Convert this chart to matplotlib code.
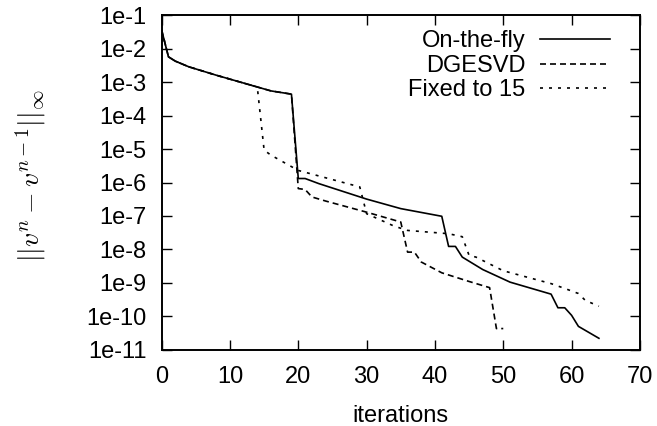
import matplotlib
matplotlib.use("Agg")
import matplotlib.pyplot as plt
from matplotlib.lines import Line2D

plt.rcParams['font.family'] = ['Liberation Sans', 'DejaVu Sans']
plt.rcParams['mathtext.fontset'] = 'cm'

# on-the-fly rank selection
fly_x = [0, 1, 2, 4, 8, 14, 16, 19, 20, 21, 23, 30, 35, 41, 42, 43, 44, 47, 51, 57, 58, 59, 60, 61, 64]
fly_y = [3.63e-2, 5.75e-3, 4.27e-3, 2.88e-3, 1.62e-3, 7.2e-4, 5.5e-4, 4.4e-4,
         1.32e-6, 1.32e-6, 9.3e-7, 3.2e-7, 1.66e-7, 9.8e-8, 1.23e-8, 1.23e-8,
         5.9e-9, 2.5e-9, 1.05e-9, 4.6e-10, 1.8e-10, 1.8e-10, 1.07e-10, 5.0e-11, 2.2e-11]

# DGESVD
svd_x = [0, 1, 2, 4, 8, 14, 16, 19, 20, 21, 22, 24, 30, 35, 36, 37, 38, 41, 45, 48, 49, 50]
svd_y = [3.63e-2, 5.75e-3, 4.27e-3, 2.88e-3, 1.62e-3, 7.2e-4, 5.5e-4, 4.4e-4,
         6.6e-7, 6.2e-7, 3.7e-7, 2.8e-7, 1.3e-7, 6.6e-8, 8.3e-9, 8.3e-9,
         4.2e-9, 2.0e-9, 1.1e-9, 7.2e-10, 4.3e-11, 4.3e-11]

# rank fixed to 15
fix_x = [0, 1, 2, 4, 8, 14, 15, 16, 20, 29, 30, 34, 36, 42, 44, 45, 46, 50, 57, 59, 61, 62, 64]
fix_y = [3.63e-2, 5.75e-3, 4.27e-3, 2.88e-3, 1.62e-3, 7.2e-4, 9.3e-6, 6.6e-6,
         2.3e-6, 7.4e-7, 1.17e-7, 5.0e-8, 3.7e-8, 2.95e-8, 2.4e-8, 6.6e-9,
         5.9e-9, 2.3e-9, 9.5e-10, 6.8e-10, 4.8e-10, 3.0e-10, 2.0e-10]

labels = ["On-the-fly", "DGESVD", "Fixed to 15"]
ytick_vals = [10.0 ** -k for k in range(1, 12)]
ytick_labels = ["1e-%d" % k for k in range(1, 12)]

fig = plt.figure(figsize=(6.57, 4.26), dpi=100)
ax = fig.add_axes([0.246, 0.179, 0.728, 0.785])

lw = 1.2
styles = [dict(ls='-'), dict(ls=(0, (3.6, 2.4))), dict(ls=(0, (1.8, 3.6)))]
series = [(fly_x, fly_y), (svd_x, svd_y), (fix_x, fix_y)]
for (xs, ys), st in zip(series, styles):
    ax.plot(xs, ys, color='black', lw=lw, **st)

ax.set_yscale('log')
ax.set_xlim(0, 70)
ax.set_ylim(1e-11, 1e-1)
ax.set_xticks(range(0, 71, 10))
ax.set_yticks(ytick_vals)
ax.set_yticklabels(ytick_labels)
ax.minorticks_off()
ax.tick_params(direction='in', length=7, width=1.0, top=True, right=True,
               labelsize=17)
ax.tick_params(axis='y', pad=11)
ax.tick_params(axis='x', pad=12)
for sp in ax.spines.values():
    sp.set_linewidth(1.4)

ax.set_xlabel("iterations", fontsize=17, labelpad=12)
ax.set_ylabel(r"$||v^n - v^{n-1}||_\infty$", fontsize=20)
ax.yaxis.set_label_coords(-0.238, 0.52)

# gnuplot-style key: right-aligned text, sample line after it
rows = [0.904, 0.831, 0.759]
for lab, st, yb in zip(labels, styles, rows):
    ax.text(0.760, yb, lab, transform=ax.transAxes, ha='right', va='baseline',
            fontsize=17)
    ax.add_line(Line2D([0.791, 0.937], [yb + 0.024, yb + 0.024],
                       transform=ax.transAxes, color='black', lw=lw, **st))

fig.savefig("out.png", dpi=100)
